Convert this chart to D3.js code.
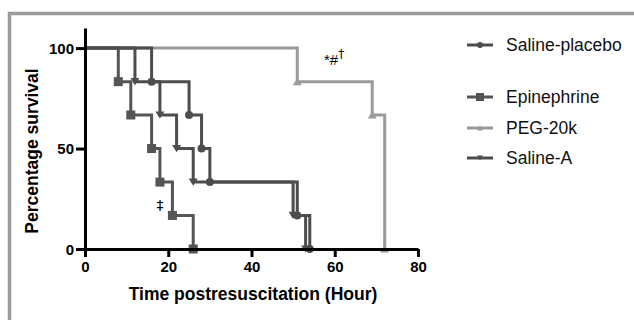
<!DOCTYPE html>
<html>
<head>
<meta charset="utf-8">
<script src="https://cdn.jsdelivr.net/npm/d3@7"></script>
<style>
  body { margin: 0; background: #fff; }
  svg { display: block; font-family: "Liberation Sans", Arial, sans-serif; }
</style>
</head>
<body>
<svg id="chart" width="634" height="320"></svg>
<script>
// survival data (hours, % surviving)
const salinePlaceboTime = [0, 16, 25, 28, 30, 51, 54];
const salinePlaceboSurv = [100, 83.3, 66.7, 50, 33.3, 16.7, 0];
const epinephrineTime = [0, 8, 11, 16, 18, 21, 26];
const epinephrineSurv = [100, 83.3, 66.7, 50, 33.3, 16.7, 0];
const peg20kTime = [0, 51, 69, 72];
const peg20kSurv = [100, 83.3, 66.7, 0];
const salineATime = [0, 12, 18, 22, 26, 50, 53];
const salineASurv = [100, 83.3, 66.7, 50, 33.3, 16.7, 0];

const xTicks = [0, 20, 40, 60, 80];
const yTicks = [0, 50, 100];

const series = [
  { name: 'Saline-placebo', t: salinePlaceboTime, s: salinePlaceboSurv, color: '#4d4d4d', sym: 'circle' },
  { name: 'Epinephrine', t: epinephrineTime, s: epinephrineSurv, color: '#555555', sym: 'square' },
  { name: 'PEG-20k', t: peg20kTime, s: peg20kSurv, color: '#9a9a9a', sym: 'up' },
  { name: 'Saline-A', t: salineATime, s: salineASurv, color: '#4d4d4d', sym: 'down' }
];

const svg = d3.select('#chart');

// grey frame running off the right/bottom edges
svg.append('rect')
  .attr('x', 9.5).attr('y', 13.5)
  .attr('width', 700).attr('height', 400)
  .attr('fill', 'none').attr('stroke', '#9b9b9b').attr('stroke-width', 3.5);

const x = d3.scaleLinear().domain([0, 80]).range([85, 418]);
const y = d3.scaleLinear().domain([0, 110]).range([249, 28]);

const line = d3.line()
  .x(d => x(d[0]))
  .y(d => y(d[1]))
  .curve(d3.curveStepAfter);

function marker(g, sym, size, color) {
  if (sym === 'circle') {
    g.append('circle').attr('r', size * 0.5).attr('fill', color);
  } else if (sym === 'square') {
    g.append('rect').attr('x', -size / 2).attr('y', -size / 2)
      .attr('width', size).attr('height', size).attr('fill', color);
  } else {
    const h = size * 0.8, w = size * 0.5;
    const pts = sym === 'up'
      ? [[0, -h / 2], [w, h / 2], [-w, h / 2]]
      : [[0, h / 2], [w, -h / 2], [-w, -h / 2]];
    g.append('path').attr('d', 'M' + pts.join('L') + 'Z').attr('fill', color);
  }
}

const plot = svg.append('g');
// draw PEG first so the darker curves sit on top
[2, 1, 0, 3].forEach(i => {
  const sr = series[i];
  const pts = sr.t.map((t, k) => [t, sr.s[k]]);
  plot.append('path')
    .datum(pts)
    .attr('d', line)
    .attr('fill', 'none')
    .attr('stroke', sr.color)
    .attr('stroke-width', 3);
  pts.slice(1).forEach(p => {
    const g = plot.append('g').attr('transform', `translate(${x(p[0])},${y(p[1])})`);
    marker(g, sr.sym, sr.sym === 'circle' ? 8 : 9, sr.color);
  });
});

// axes
const xAxis = svg.append('g')
  .attr('transform', `translate(0,${y(0)})`)
  .call(d3.axisBottom(x).tickValues(xTicks).tickSize(8).tickPadding(4).tickSizeOuter(0));
const yAxis = svg.append('g')
  .attr('transform', `translate(${x(0)},0)`)
  .call(d3.axisLeft(y).tickValues(yTicks).tickSize(9).tickPadding(2).tickSizeOuter(0));

[xAxis, yAxis].forEach(a => {
  a.select('.domain').attr('stroke', '#000').attr('stroke-width', 3);
  a.selectAll('.tick line').attr('stroke', '#000').attr('stroke-width', 3);
  a.selectAll('.tick text')
    .attr('fill', '#000')
    .attr('font-size', 15)
    .attr('font-weight', 'bold')
    .attr('font-family', '"Liberation Sans", Arial, sans-serif');
});
yAxis.selectAll('.tick text').attr('dy', '0.36em');

svg.append('text')
  .attr('x', 253).attr('y', 300)
  .attr('text-anchor', 'middle')
  .attr('font-size', 17.5).attr('font-weight', 'bold')
  .attr('fill', '#000')
  .text('Time postresuscitation (Hour)');

svg.append('text')
  .attr('transform', `translate(38,151) rotate(-90)`)
  .attr('text-anchor', 'middle')
  .attr('font-size', 17.5).attr('font-weight', 'bold')
  .attr('fill', '#000')
  .text('Percentage survival');

// significance marks
const sig = svg.append('text')
  .attr('x', 324).attr('y', 65)
  .attr('font-size', 15)
  .attr('fill', '#000');
sig.append('tspan').text('*#');
sig.append('tspan').attr('dy', -7).attr('font-size', 12)
  .attr('font-family', '"DejaVu Sans", sans-serif').text('†');

svg.append('text')
  .attr('x', 160).attr('y', 210)
  .attr('text-anchor', 'middle')
  .attr('font-size', 14)
  .attr('font-family', '"DejaVu Sans", sans-serif')
  .attr('fill', '#000')
  .text('‡');

// legend
const legendY = [45, 97, 128, 158];
const leg = svg.append('g');
series.forEach((sr, i) => {
  const g = leg.append('g').attr('transform', `translate(467,${legendY[i]})`);
  g.append('line').attr('x1', 0).attr('x2', 26)
    .attr('stroke', sr.color).attr('stroke-width', 3);
  const m = g.append('g').attr('transform', 'translate(13,0)');
  marker(m, sr.sym, sr.sym === 'circle' ? 6 : (sr.sym === 'square' ? 8 : 6), sr.color);
  g.append('text')
    .attr('x', 39).attr('dy', '0.36em')
    .attr('font-size', 17.5)
    .attr('fill', '#111')
    .text(sr.name);
});
</script>
</body>
</html>
